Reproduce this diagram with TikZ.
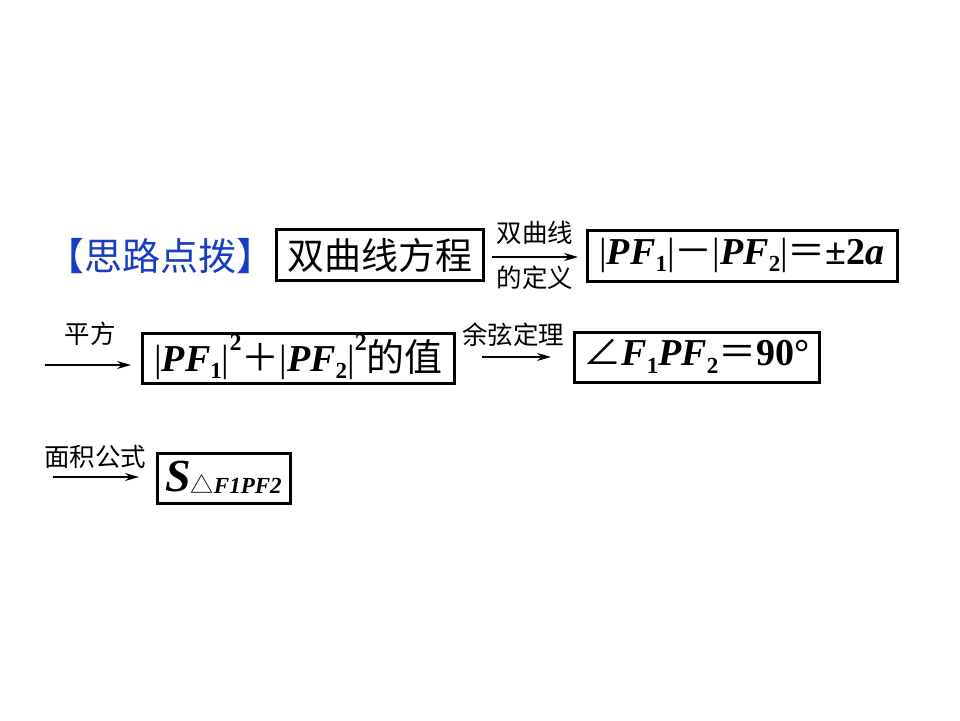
\documentclass[tikz,border=0pt]{standalone}
\usepackage{fontspec}
\setmainfont{Liberation Serif}
\newfontfamily\cjk{Noto Sans CJK SC}
\usetikzlibrary{arrows.meta}
\definecolor{hintblue}{RGB}{25,60,195}
\newcommand{\bi}[1]{\textbf{\textit{#1}}}
\newcommand{\sbx}[1]{\raisebox{-0.2em}{\fontsize{23pt}{23pt}\selectfont\textbf{#1}}}
\newcommand{\spx}[1]{\raisebox{0.55em}{\fontsize{24pt}{24pt}\selectfont\textbf{#1}}}
\begin{document}
\begin{tikzpicture}[x=1pt,y=-1pt,
  boxnode/.style={draw,line width=3.1pt,inner sep=0pt,anchor=north west},
  lbl/.style={font=\cjk\fontsize{25.5pt}{25.5pt}\selectfont,inner sep=0pt},
  arr/.style={line width=1.3pt,-{Stealth[length=14pt,width=8pt]}},
  mtext/.style={font=\fontsize{38pt}{38pt}\selectfont,inner sep=0pt}]
\useasboundingbox (0,0) rectangle (960,720);
% title
\node[font=\cjk\fontsize{38pt}{38pt}\selectfont,text=hintblue,inner sep=0pt] (title) at (160,256) {【思路点拨】};
% boxes
\node[boxnode,minimum width=207pt,minimum height=51pt] (b1) at (274.5,228) {};
\node[font=\cjk\fontsize{37pt}{37pt}\selectfont,inner sep=0pt] (t1) at (b1.center) {双曲线方程};
\node[boxnode,minimum width=310pt,minimum height=51pt] (b2) at (585.5,229) {};
\node[mtext] (t2) at ([yshift=1pt]b2.center) {|\bi{PF}\sbx{1}|{\cjk －}|\bi{PF}\sbx{2}|{\cjk ＝}\textbf{±2\textit{a}}};
\node[boxnode,minimum width=312pt,minimum height=50pt] (b3) at (141,331.5) {};
\node[mtext] (t3) at ([yshift=1pt]b3.center) {|\bi{PF}\sbx{1}|\spx{2}{\cjk ＋}|\bi{PF}\sbx{2}|\spx{2}{\cjk 的值}};
\node[boxnode,minimum width=245pt,minimum height=50pt] (b4) at (572.5,331) {};
\node[mtext] (t4) at ([yshift=1pt]b4.center) {{\cjk ∠}\bi{F}\sbx{1}\bi{PF}\sbx{2}{\cjk ＝}\textbf{90°}};
\node[boxnode,minimum width=133pt,minimum height=50pt] (b5) at (155.5,452) {};
\node[inner sep=0pt] (t5) at ([yshift=1pt]b5.center) {\fontsize{46pt}{46pt}\selectfont\bi{S}\raisebox{-0.05em}{\fontsize{23pt}{23pt}\selectfont{\cjk △}\bi{F1PF2}}};
% arrows
\coordinate (a1s) at (492,257);
\coordinate (a1e) at (578,257);
\draw[arr] (a1s) -- (a1e);
\node[lbl] (l1a) at (535,233) {双曲线};
\node[lbl] (l1b) at (535,278) {的定义};
\coordinate (a2s) at (45,365);
\coordinate (a2e) at (131,365);
\draw[arr] (a2s) -- (a2e);
\node[lbl] (l2) at (90,334) {平方};
\coordinate (a3s) at (482,357);
\coordinate (a3e) at (551,357);
\draw[arr] (a3s) -- (a3e);
\node[lbl] (l3) at (513,335) {余弦定理};
\coordinate (a5s) at (53,477);
\coordinate (a5e) at (139,477);
\draw[arr] (a5s) -- (a5e);
\node[lbl] (l5) at (95,457) {面积公式};
\end{tikzpicture}
\end{document}
